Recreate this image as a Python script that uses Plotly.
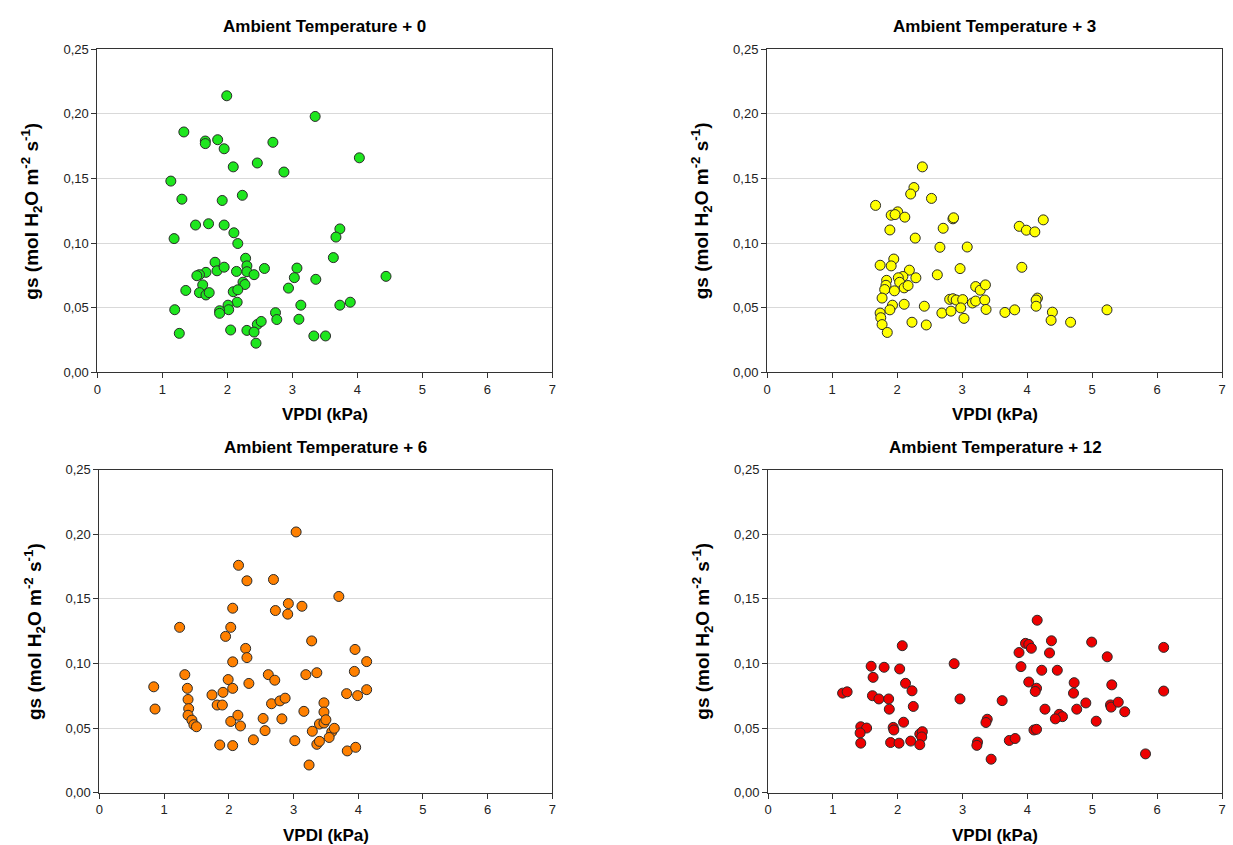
import plotly.graph_objects as go

# VPDI (kPa) and stomatal conductance gs for each warming treatment
vpd_t0 = [1.99, 1.33, 1.66, 1.66, 1.85, 1.95, 2.09, 2.46, 2.70, 2.87, 1.13, 1.30, 1.92, 2.23, 1.51, 1.71, 1.95, 2.10,
          2.16, 1.18, 2.28, 2.30, 2.30, 2.41, 2.57, 1.81, 1.84, 1.95, 2.14, 1.67, 1.57, 1.53, 1.62, 1.57, 1.67, 1.72,
          1.36, 2.24, 2.27, 2.09, 2.16, 2.15, 2.01, 2.02, 1.88, 1.88, 1.19, 1.26, 2.05, 2.30, 2.46, 2.52, 2.41, 2.44,
          2.74, 2.76, 2.94, 3.35, 4.03, 3.73, 3.67, 3.63, 3.07, 3.03, 3.36, 4.44, 3.13, 3.10, 3.73, 3.89, 3.33, 3.51]
gs_t0 = [0.214, 0.186, 0.179, 0.177, 0.180, 0.173, 0.159, 0.162, 0.178, 0.155, 0.148, 0.134, 0.133, 0.137, 0.114,
         0.115, 0.114, 0.108, 0.0997, 0.1035, 0.0883, 0.0824, 0.0779, 0.0756, 0.0804, 0.0852, 0.0786, 0.0814, 0.0781,
         0.0774, 0.0756, 0.0748, 0.0677, 0.0617, 0.0599, 0.0617, 0.0634, 0.0698, 0.068, 0.0624, 0.0639, 0.0543, 0.052,
         0.0485, 0.0477, 0.0457, 0.0485, 0.0302, 0.0328, 0.0325, 0.0371, 0.0394, 0.0312, 0.0226, 0.0462, 0.0409,
         0.0652, 0.198, 0.166, 0.111, 0.1047, 0.0888, 0.0807, 0.0733, 0.072, 0.0743, 0.052, 0.0411, 0.052, 0.0543,
         0.0282, 0.0282]

vpd_t3 = [2.39, 2.26, 2.21, 2.53, 1.67, 2.01, 1.91, 1.97, 2.12, 1.89, 2.28, 2.71, 2.86, 2.87, 2.66, 3.08, 1.74, 1.95,
          1.91, 2.97, 2.19, 2.62, 2.29, 2.09, 2.02, 2.04, 1.84, 1.83, 1.81, 1.96, 2.11, 2.17, 1.77, 1.93, 1.89, 2.11,
          2.42, 1.74, 1.75, 1.77, 1.85, 2.23, 2.45, 2.69, 2.83, 2.81, 2.86, 2.91, 3.01, 2.98, 3.03, 3.16, 3.21, 3.21,
          3.28, 3.36, 3.35, 3.37, 3.66, 3.88, 3.99, 4.12, 4.25, 3.92, 4.16, 4.14, 4.14, 3.81, 4.39, 4.37, 4.67, 5.23]
gs_t3 = [0.159, 0.143, 0.138, 0.1346, 0.1292, 0.1242, 0.1216, 0.1221, 0.1201, 0.1102, 0.1039, 0.1115, 0.1188, 0.1196,
         0.0968, 0.097, 0.0829, 0.0877, 0.0824, 0.0803, 0.0791, 0.0755, 0.0732, 0.0742, 0.0732, 0.0697, 0.0712,
         0.0674, 0.0641, 0.0631, 0.0654, 0.0672, 0.0575, 0.052, 0.0484, 0.0527, 0.0512, 0.0459, 0.0423, 0.037,
         0.0309, 0.0388, 0.0367, 0.0459, 0.0474, 0.0565, 0.057, 0.056, 0.0563, 0.0499, 0.0418, 0.0537, 0.0552,
         0.0664, 0.0636, 0.0677, 0.056, 0.0487, 0.0464, 0.113, 0.110, 0.1087, 0.118, 0.0813, 0.0575, 0.056, 0.0512,
         0.0484, 0.0466, 0.0403, 0.0388, 0.0484]

vpd_t6 = [2.15, 2.28, 2.69, 2.72, 2.06, 1.24, 2.03, 1.95, 2.26, 2.28, 2.06, 1.32, 0.84, 0.86, 1.36, 1.37, 1.38, 1.37,
          1.43, 1.46, 1.50, 1.74, 1.82, 1.90, 1.91, 1.99, 2.06, 2.31, 2.03, 2.14, 2.18, 1.86, 2.06, 2.38, 2.53, 2.56,
          2.61, 2.71, 2.66, 2.79, 2.82, 3.04, 2.92, 2.91, 3.13, 3.70, 3.28, 3.95, 4.13, 3.94, 3.19, 3.36, 4.13, 3.82,
          3.99, 2.87, 3.16, 3.47, 3.47, 3.40, 3.47, 3.50, 3.59, 3.63, 3.55, 3.29, 3.02, 3.36, 3.40, 3.83, 3.96, 3.24]
gs_t6 = [0.176, 0.164, 0.165, 0.141, 0.1428, 0.128, 0.128, 0.121, 0.1117, 0.1046, 0.1013, 0.0914, 0.082, 0.0648,
         0.0808, 0.0722, 0.0651, 0.06, 0.0562, 0.0527, 0.0511, 0.0757, 0.0679, 0.0679, 0.0777, 0.0876, 0.0808,
         0.0846, 0.0552, 0.06, 0.0517, 0.037, 0.0365, 0.041, 0.0575, 0.0481, 0.0914, 0.0871, 0.0689, 0.0711, 0.0572,
         0.2018, 0.1464, 0.1382, 0.1443, 0.1519, 0.1175, 0.1109, 0.1015, 0.0939, 0.0914, 0.0929, 0.0798, 0.0767,
         0.0752, 0.0732, 0.063, 0.0696, 0.0625, 0.0532, 0.054, 0.0565, 0.0471, 0.0499, 0.0428, 0.0476, 0.0403,
         0.0375, 0.0398, 0.0324, 0.0352, 0.0215]

vpd_t12 = [2.07, 1.59, 1.79, 2.03, 2.87, 1.62, 2.12, 2.22, 1.15, 1.22, 1.61, 1.71, 1.86, 1.87, 2.24, 2.96, 2.09, 1.43,
           1.52, 1.42, 1.43, 1.93, 1.94, 1.89, 2.02, 2.20, 2.34, 2.38, 2.37, 2.34, 3.38, 3.36, 3.23, 3.22, 3.44,
           4.15, 3.97, 4.02, 4.06, 3.87, 4.37, 4.34, 4.99, 5.23, 6.10, 3.90, 4.22, 4.46, 4.02, 4.14, 4.12, 4.72, 4.71,
           5.30, 6.10, 3.61, 4.27, 4.49, 4.54, 4.43, 4.76, 4.90, 5.28, 5.29, 5.40, 5.50, 5.06, 4.10, 4.14, 3.72, 3.81,
           5.82]
gs_t12 = [0.1138, 0.0979, 0.0971, 0.0958, 0.0999, 0.0893, 0.0847, 0.0789, 0.0771, 0.0781, 0.0751, 0.0726, 0.0726,
          0.0647, 0.0668, 0.0726, 0.0546, 0.0511, 0.0501, 0.0463, 0.0384, 0.0506, 0.0486, 0.0389, 0.0384, 0.04,
          0.0455, 0.0473, 0.0432, 0.0372, 0.0569, 0.0544, 0.0392, 0.0367, 0.026, 0.1335, 0.1156, 0.1148, 0.1118,
          0.1085, 0.1176, 0.1082, 0.1166, 0.1052, 0.1125, 0.0976, 0.0948, 0.0948, 0.0857, 0.0809, 0.0784, 0.0852,
          0.0771, 0.0835, 0.0787, 0.0713, 0.0647, 0.0607, 0.0589, 0.0572, 0.0647, 0.0695, 0.068, 0.0663, 0.0701,
          0.0627, 0.0554, 0.0486, 0.0491, 0.0405, 0.042, 0.0301]

panel_titles = ["Ambient Temperature + 0", "Ambient Temperature + 3",
                "Ambient Temperature + 6", "Ambient Temperature + 12"]
panel_colors = ["#1ee61e", "#ffff00", "#ff8000", "#ee0000"]
x_title = "VPDI (kPa)"
y_title = "gs (mol H<sub>2</sub>O m<sup>-2</sup> s<sup>-1</sup>)"

W, H = 1233, 845
FONT = "Arial, Liberation Sans, sans-serif"

# pixel boxes of the four plot areas: (left, right, top, bottom)
boxes = [(94, 552, 43, 372), (768, 1226, 43, 372), (96, 552, 471, 800), (769, 1226, 471, 800)]
series = [(vpd_t0, gs_t0), (vpd_t3, gs_t3), (vpd_t6, gs_t6), (vpd_t12, gs_t12)]

fig = go.Figure()
annotations = []
for i, ((l, r, t, b), (xs, ys)) in enumerate(zip(boxes, series)):
    n = "" if i == 0 else str(i + 1)
    xa, ya = "x" + n, "y" + n
    fig.add_trace(go.Scatter(
        x=xs, y=ys, mode="markers", xaxis=xa, yaxis=ya, showlegend=False,
        marker=dict(size=10, color=panel_colors[i], line=dict(width=1, color="#2a2a2a")),
    ))
    dom_x = [l / W, r / W]
    dom_y = [1 - b / H, 1 - t / H]
    common = dict(showline=True, linecolor="#333333", linewidth=1, mirror=True,
                  ticks="outside", ticklen=5, tickcolor="#333333", zeroline=False,
                  tickfont=dict(family=FONT, size=13, color="#222222"))
    fig.update_layout(**{
        "xaxis" + n: dict(domain=dom_x, range=[0, 7], dtick=1, tick0=0, showgrid=False,
                          anchor=ya, **common),
        "yaxis" + n: dict(domain=dom_y, range=[0, 0.25], dtick=0.05, tick0=0, tickformat=".2f",
                          showgrid=True, gridcolor="#d9d9d9", gridwidth=1, anchor=xa, **common),
    })
    cx = (l + r) / 2
    cy = (t + b) / 2
    annotations.append(dict(text="<b>%s</b>" % panel_titles[i], x=cx / W, y=1 - (t - 23) / H,
                            xref="paper", yref="paper", showarrow=False, xanchor="center", yanchor="middle",
                            font=dict(family=FONT, size=17, color="#000000")))
    annotations.append(dict(text="<b>%s</b>" % x_title, x=cx / W, y=1 - (b + 43) / H,
                            xref="paper", yref="paper", showarrow=False, xanchor="center", yanchor="middle",
                            font=dict(family=FONT, size=17, color="#000000")))
    annotations.append(dict(text="<b>%s</b>" % y_title, x=(l - 66) / W, y=1 - cy / H, textangle=-90,
                            xref="paper", yref="paper", showarrow=False, xanchor="center", yanchor="middle",
                            font=dict(family=FONT, size=19, color="#000000")))

fig.update_layout(
    width=W, height=H, margin=dict(l=0, r=0, t=0, b=0),
    paper_bgcolor="white", plot_bgcolor="white",
    separators=",.", annotations=annotations,
    font=dict(family=FONT),
)

fig.write_html("out.html")
